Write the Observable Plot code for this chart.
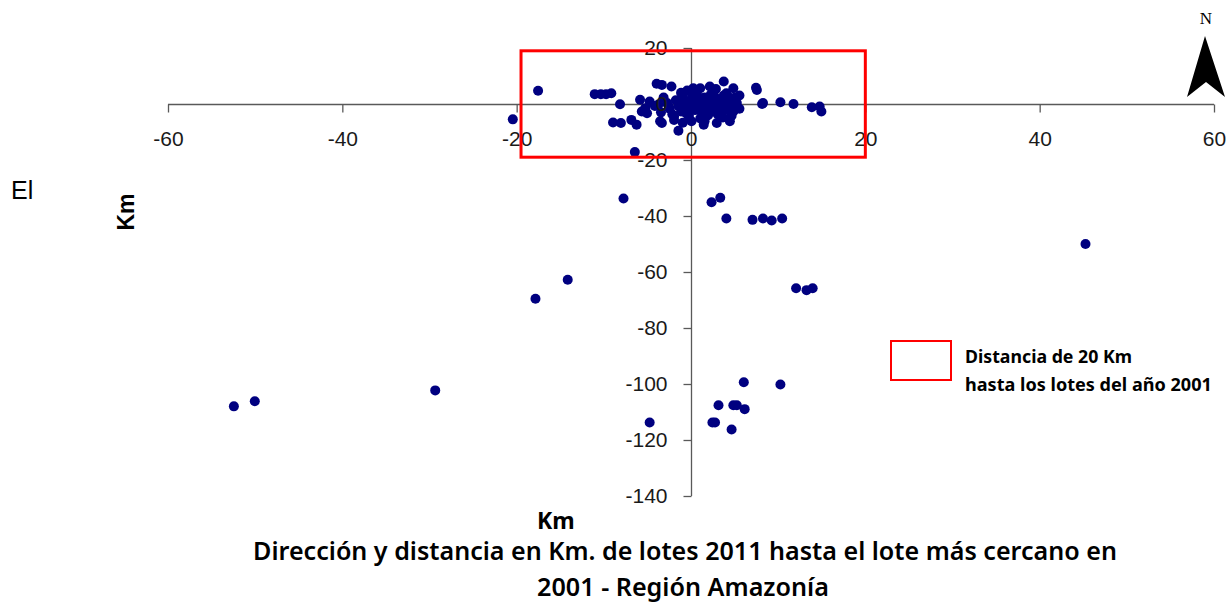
<!DOCTYPE html>
<html><head><meta charset="utf-8">
<script src="https://cdn.jsdelivr.net/npm/d3@7"></script>
<script src="https://cdn.jsdelivr.net/npm/@observablehq/plot@0.6"></script>
<style>
body{margin:0;background:#fff;}
#wrap{position:relative;width:1230px;height:605px;overflow:hidden;font-family:"Liberation Sans",Arial,sans-serif;color:#000;}
#chart{position:absolute;left:0;top:0;}
.abs{position:absolute;white-space:nowrap;line-height:1;}
.cal{font-family:"Noto Sans","Open Sans",sans-serif;}
</style></head><body>
<div id="wrap">
<div id="chart"></div>
<div class="abs" style="left:11px;top:178px;font-size:25px;">El</div>
<div class="abs" style="left:126px;top:212px;font-size:23px;font-weight:bold;transform:translate(-50%,-50%) rotate(-90deg);">Km</div>
<div class="abs cal" id="kmx" style="font-weight:bold;font-size:23px;left:537px;top:509px;">Km</div>
<div class="abs cal fit" data-w="864" data-cx="685" data-cy="551" style="font-weight:600;">Dirección y distancia en Km. de lotes 2011 hasta el lote más cercano en</div>
<div class="abs cal fit" data-w="292" data-cx="683" data-cy="587" style="font-weight:600;">2001 - Región Amazonía</div>
<div class="abs" style="left:890px;top:340px;width:58px;height:37px;border:2px solid #ff0000;"></div>
<div class="abs cal fit" data-w="167" data-lx="965" data-cy="357" style="font-weight:bold;">Distancia de 20 Km</div>
<div class="abs cal fit" data-w="247" data-lx="965" data-cy="384" style="font-weight:bold;">hasta los lotes del año 2001</div>
<svg class="abs" style="left:0;top:0;" width="1230" height="110">
  <text x="1206" y="24" text-anchor="middle" font-family="Liberation Serif, DejaVu Serif, serif" font-size="17">N</text>
  <polygon points="1205,36 1187,97 1206,82 1225,97" fill="#000"/>
</svg>
</div>
<script>
// ---- data ----
const xTicks = [-60, -40, -20, 0, 20, 40, 60];
const yTicks = [20, 0, -20, -40, -60, -80, -100, -120, -140];
const xDomain = [-60, 60];
const yDomain = [-140, 20];
const zoneX = [-19.5, 20];          // 20 Km zone (red box)
const zoneY = [-19, 19];

// distance (km) east-west of each 2011 lot to nearest 2001 lot
const xs = [
  -52.5, -50.1, -29.4, -17.9, -14.2, 45.2, -7.8, -6.5, 2.3, 3.3, 4.0, 7.0, 8.2, 9.2, 10.4,
  12.0, 13.2, 13.9, -4.8, 6.0, 10.2, 3.1, 4.8, 5.2, 6.1, 2.4, 2.7, 4.6,
  -17.6, -20.5, -11.1, -10.4, -9.8, -9.2, -8.2, -9.0, -8.1, -6.9, -6.3, -5.9, -5.1, -5.3, -5.7,
  -4.0, -3.4, -2.3, -3.4, -1.5, 0.2, 1.0, 2.1, 3.7, 4.8, 5.5, 7.4, 7.5, 8.2, 8.1, 10.2, 11.7,
  13.8, 14.7, 14.9, 1.5, 2.9, 4.4, 1.4, -4.8, -3.6,
  -3.2, -2.8, -2.5, -2.2, -1.8, -1.5, -1.2, -1.0, -0.8, -0.5, -0.3, 0.0, 0.2, 0.4, 0.6, 0.8,
  1.0, 1.2, 1.5, 1.7, 2.0, 2.2, 2.5, 2.8, 3.0, 3.3, 3.5, 3.8, 4.0, 4.2, 4.5, 4.8, 5.0, 5.2,
  -3.5, -2.0, 0.0, 1.0, -0.5, 2.8, -4.2, -3.8, 0.3, 1.3, 2.3, 3.7, 5.5, -1.0, 4.6,
  -2.6, -1.4, -0.2, 0.9, 2.0, 3.1, 4.2, -2.0, -0.6, 0.7, 1.9, 3.2, 4.3, -1.2, 0.1, 1.6, 2.6, 3.6
];
// distance (km) north-south
const ys = [
  -107.8, -106.0, -102.1, -69.4, -62.6, -49.8, -33.6, -17.0, -34.9, -33.3, -40.7, -41.2, -40.7, -41.4, -40.7,
  -65.6, -66.3, -65.6, -113.6, -99.2, -100.0, -107.4, -107.4, -107.4, -108.8, -113.6, -113.6, -116.1,
  4.9, -5.3, 3.7, 3.7, 3.7, 4.0, 0.1, -6.4, -6.6, -5.5, -7.2, 1.7, -3.1, -1.3, -2.5,
  7.4, 7.0, 6.4, -6.6, -9.4, 5.8, 5.8, 6.4, 8.2, 5.8, 3.2, 6.0, 5.2, 0.5, 0.2, 0.8, 0.2,
  -1.0, -0.7, -2.5, -6.0, -6.6, -6.0, -7.2, 1.1, -6.0,
  2.5, 0.5, -1.5, -3.5, 1.5, -0.5, -2.5, 3.0, 0.8, -1.2, -4.0, 2.0, 0.0, -2.0, 4.0, 1.2,
  -0.8, -3.0, 2.5, 0.3, -1.5, 3.5, 1.0, -0.8, -3.5, 2.0, 0.0, -2.0, 4.0, 1.5, -0.5, -2.5, 2.5, 0.5,
  -2.8, -5.5, -6.0, -5.0, 5.0, 5.5, -0.5, 0.0, -1.0, 1.8, -2.5, 3.2, -1.5, -6.5, -4.0,
  -0.8, 1.0, -2.2, -1.8, 1.2, -1.2, 2.8, -4.2, -3.2, 2.8, -3.8, 0.8, -1.2, 4.2, 3.4, -4.5, 3.0, -4.6
];

const points = xs.map((x, i) => ({x, y: ys[i]}));

const axisColor = "#595959";
const tickDown = {draw(ctx) { ctx.moveTo(0, 0); ctx.lineTo(0, 8); }};
const tickLeft = {draw(ctx) { ctx.moveTo(0, 0); ctx.lineTo(-8, 0); }};

const chart = Plot.plot({
  width: 1230,
  height: 510,
  marginLeft: 168,
  marginRight: 16,
  marginTop: 48,
  marginBottom: 14,
  x: {domain: xDomain, axis: null},
  y: {domain: yDomain, axis: null},
  style: {fontFamily: "'Liberation Sans', Arial, sans-serif", fontSize: "21px", color: "#1a1a1a", background: "transparent", overflow: "visible"},
  marks: [
    Plot.ruleY([0], {x1: xDomain[0], x2: xDomain[1], stroke: axisColor, strokeWidth: 1.3}),
    Plot.ruleX([0], {y1: yDomain[0], y2: yDomain[1], stroke: axisColor, strokeWidth: 1.3}),
    Plot.dot(xTicks, {x: d => d, y: 0, symbol: tickDown, fill: "none", stroke: axisColor, strokeWidth: 1.3}),
    Plot.dot(yTicks, {x: 0, y: d => d, symbol: tickLeft, fill: "none", stroke: axisColor, strokeWidth: 1.3}),
    Plot.dot(points, {x: "x", y: "y", r: 5, fill: "#000080", stroke: "none"}),
    Plot.text(xTicks, {x: d => d, y: 0, dy: 35, text: d => String(d), fontSize: 21}),
    Plot.text(yTicks, {x: 0, y: d => d, dx: -24, textAnchor: "end", text: d => String(d), fontSize: 21}),
    Plot.rect([{}], {x1: zoneX[0], x2: zoneX[1], y1: zoneY[0], y2: zoneY[1], fill: "none", stroke: "#ff0000", strokeWidth: 3})
  ]
});
document.getElementById("chart").appendChild(chart);

// fit caption texts to the widths seen in the reference
document.querySelectorAll(".fit").forEach(el => {
  el.style.fontSize = "20px";
  const w = el.getBoundingClientRect().width;
  const target = +el.dataset.w;
  const fs = 20 * target / w;
  el.style.fontSize = fs + "px";
  const r = el.getBoundingClientRect();
  const cy = +el.dataset.cy;
  el.style.top = (cy - r.height / 2) + "px";
  if (el.dataset.cx) el.style.left = (+el.dataset.cx - r.width / 2) + "px";
  else el.style.left = el.dataset.lx + "px";
});
</script>
</body></html>
